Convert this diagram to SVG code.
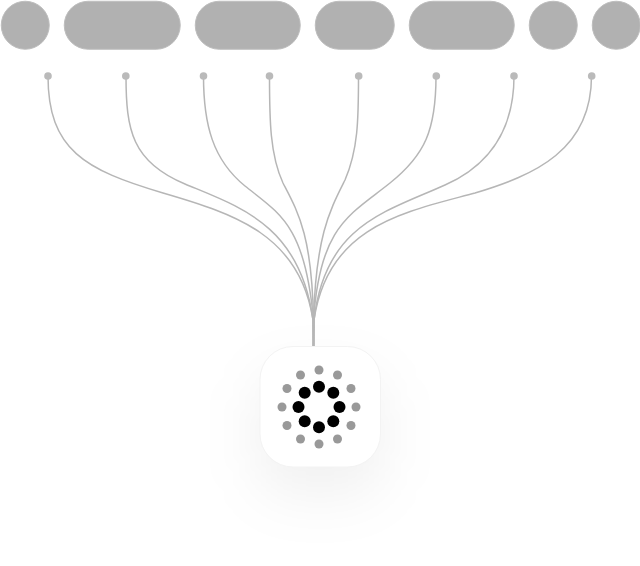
<svg xmlns="http://www.w3.org/2000/svg" width="640" height="566" viewBox="0 0 640 566">
<defs>
<style>
.pill{fill:#b1b1b1;stroke:#bebebe;stroke-width:1}
.port{fill:#bababa}
.wire{fill:none;stroke:#b6b6b6;stroke-width:1.5}
.outer{fill:#999}
.inner{fill:#000}
</style>
<filter id="soft" x="-100%" y="-100%" width="300%" height="300%"><feGaussianBlur stdDeviation="28"/></filter>
</defs>
<rect width="640" height="566" fill="#fff"/>
<g id="node-1"><rect class="pill" x="1.250" y="1.250" width="48" height="48" rx="24"/></g>
<g id="node-2"><rect class="pill" x="64.250" y="1.250" width="116" height="48" rx="24"/></g>
<g id="node-3"><rect class="pill" x="195.250" y="1.250" width="105" height="48" rx="24"/></g>
<g id="node-4"><rect class="pill" x="315.250" y="1.250" width="79" height="48" rx="24"/></g>
<g id="node-5"><rect class="pill" x="409.250" y="1.250" width="105" height="48" rx="24"/></g>
<g id="node-6"><rect class="pill" x="529.250" y="1.250" width="48" height="48" rx="24"/></g>
<g id="node-7"><rect class="pill" x="592.250" y="1.250" width="48" height="48" rx="24"/></g>
<g id="connectors">
<path class="wire" d="M48 76C48 150 85 170 163 193C235 214 300 235 313 320L313.500 347"/>
<path class="wire" d="M126 76C126 130 132 162 185 184C240 207 300 225 313 320L313.500 347"/>
<path class="wire" d="M203.500 76C203.500 125 213 160 245 186C280 214 305 225 313.500 320L313.500 347"/>
<path class="wire" d="M269.500 76C269.500 120 270 155 283 183C298 212 312 235 313.500 320L313.500 347"/>
<path class="wire" d="M358.500 76C358.500 120 358 150 345 180C330 210 316 235 313.500 320L313.500 347"/>
<path class="wire" d="M436 76C436 130 425 155 390 183C350 215 320 225 313.500 320L313.500 347"/>
<path class="wire" d="M514 76C514 130 490 165 445 185C385 212 325 225 314 320L313.500 347"/>
<path class="wire" d="M591.500 76C591.500 150 535 175 475 193C405 212 328 225 314 320L313.500 347"/>
</g>
<g id="ports">
<circle class="port" cx="48" cy="76" r="3.800"/>
<circle class="port" cx="125.800" cy="76" r="3.800"/>
<circle class="port" cx="203.500" cy="76" r="3.800"/>
<circle class="port" cx="269.500" cy="76" r="3.800"/>
<circle class="port" cx="358.700" cy="76" r="3.800"/>
<circle class="port" cx="436.300" cy="76" r="3.800"/>
<circle class="port" cx="514" cy="76" r="3.800"/>
<circle class="port" cx="591.700" cy="76" r="3.800"/>
</g>
<g id="hub">
<rect x="258" y="372" width="124" height="124" rx="30" fill="#000" fill-opacity=".055" filter="url(#soft)"/>
<rect x="260" y="346.500" width="120.500" height="120.500" rx="33" fill="#fff" stroke="#f3f3f3" stroke-width="1"/>
<g>
<circle class="outer" cx="319" cy="370" r="4.500"/><circle class="outer" cx="337.500" cy="375" r="4.500"/><circle class="outer" cx="351" cy="388.500" r="4.500"/><circle class="outer" cx="356" cy="407" r="4.500"/><circle class="outer" cx="351" cy="425.500" r="4.500"/><circle class="outer" cx="337.500" cy="439" r="4.500"/><circle class="outer" cx="319" cy="444" r="4.500"/><circle class="outer" cx="300.500" cy="439" r="4.500"/><circle class="outer" cx="287" cy="425.500" r="4.500"/><circle class="outer" cx="282" cy="407" r="4.500"/><circle class="outer" cx="287" cy="388.500" r="4.500"/><circle class="outer" cx="300.500" cy="375" r="4.500"/>
<circle class="inner" cx="319" cy="386.800" r="6"/><circle class="inner" cx="333.300" cy="392.700" r="6"/><circle class="inner" cx="339.500" cy="407" r="6"/><circle class="inner" cx="333.300" cy="421.300" r="6"/><circle class="inner" cx="319" cy="427.300" r="6"/><circle class="inner" cx="304.700" cy="421.300" r="6"/><circle class="inner" cx="298.500" cy="407" r="6"/><circle class="inner" cx="304.700" cy="392.700" r="6"/>
</g>
</g>
</svg>
